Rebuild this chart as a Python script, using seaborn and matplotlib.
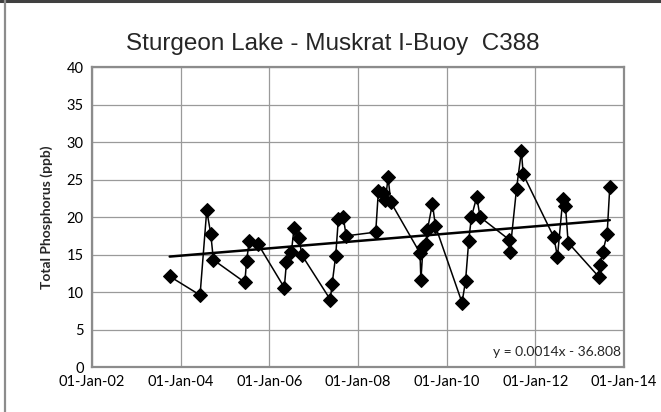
import pandas as pd
import numpy as np
import matplotlib
matplotlib.use('Agg')
import matplotlib.pyplot as plt
import matplotlib.dates as mdates
import seaborn as sns

# sample dates and total phosphorus (ppb)
sample_dates = [
    '2003-10-04', '2004-06-10', '2004-08-04', '2004-09-06', '2004-09-28',
    '2005-06-14', '2005-06-28', '2005-07-20', '2005-10-01',
    '2006-05-05', '2006-05-23', '2006-07-02', '2006-07-24', '2006-09-02', '2006-09-28',
    '2007-05-19', '2007-06-03', '2007-07-02', '2007-07-24', '2007-09-02', '2007-09-27',
    '2008-05-27', '2008-06-18', '2008-07-28', '2008-08-15', '2008-09-06', '2008-09-28',
    '2009-05-27', '2009-06-03', '2009-06-21', '2009-07-13', '2009-07-27', '2009-09-06', '2009-10-01',
    '2010-05-08', '2010-06-06', '2010-07-02', '2010-07-24', '2010-09-06', '2010-10-04',
    '2011-05-31', '2011-06-07', '2011-07-31', '2011-09-09', '2011-09-24',
    '2012-06-03', '2012-07-02', '2012-08-15', '2012-09-06', '2012-09-28',
    '2013-06-10', '2013-06-18', '2013-07-09', '2013-08-15', '2013-09-06',
]
phosphorus = [
    12.1, 9.6, 20.9, 17.8, 14.3,
    11.3, 14.1, 16.8, 16.4,
    10.6, 14.0, 15.3, 18.5, 17.2, 14.9,
    9.0, 11.1, 14.8, 19.7, 20.0, 17.5,
    18.0, 23.5, 23.2, 22.3, 25.3, 22.0,
    15.2, 11.6, 16.0, 16.4, 18.3, 21.8, 18.8,
    8.6, 11.5, 16.8, 20.0, 22.7, 20.0,
    17.0, 15.4, 23.8, 28.8, 25.7,
    17.3, 14.7, 22.4, 21.5, 16.6,
    12.0, 13.6, 15.3, 17.7, 24.0,
]
x_ticks = ['2002-01-01', '2004-01-01', '2006-01-01', '2008-01-01',
           '2010-01-01', '2012-01-01', '2014-01-01']

df = pd.DataFrame({'date': pd.to_datetime(sample_dates), 'tp': phosphorus})
df['num'] = mdates.date2num(df['date'])

sns.set_style('white')
plt.rcParams['font.family'] = ['Lato', 'DejaVu Sans']

fig = plt.figure(figsize=(6.61, 4.12), dpi=100)
ax = fig.add_axes([0.139, 0.109, 0.805, 0.728])

sns.lineplot(data=df, x='num', y='tp', ax=ax, color='black', linewidth=1.1,
             marker='D', markersize=7.5, markeredgecolor='black', sort=False)
sns.regplot(data=df, x='num', y='tp', ax=ax, scatter=False, ci=None,
            color='black', line_kws={'linewidth': 1.8})

tick_nums = mdates.date2num(pd.to_datetime(x_ticks))
ax.set_xlim(tick_nums[0], tick_nums[-1])
ax.set_ylim(0, 40)
ax.set_xticks(tick_nums)
ax.xaxis.set_major_formatter(mdates.DateFormatter('%d-%b-%y'))
ax.set_yticks(np.arange(0, 41, 5))
ax.grid(True, color='#9a9a9a', linewidth=0.9)
ax.tick_params(axis='both', length=0, labelsize=10.5, pad=6, colors='black')
for s in ax.spines.values():
    s.set_color('#8c8c8c')
    s.set_linewidth(1.6)

ax.set_xlabel('')
ax.set_ylabel('Total Phosphorus (ppb)', fontsize=10, fontweight='bold', labelpad=10)
fig.text(0.503, 0.893, 'Sturgeon Lake - Muskrat I-Buoy  C388', ha='center',
         va='center', fontsize=17.5, family=['Liberation Sans', 'DejaVu Sans'])
ax.text(0.995, 0.05, 'y = 0.0014x - 36.808', transform=ax.transAxes,
        ha='right', va='center', fontsize=10)

# outer chart frame (top and left edges)
fig.add_artist(plt.Line2D([0, 1], [0.997, 0.997], color='#404040', linewidth=2.2,
                          transform=fig.transFigure))
fig.add_artist(plt.Line2D([0.008, 0.008], [0, 1], color='#8c8c8c', linewidth=1.6,
                          transform=fig.transFigure))

fig.savefig('out.png', dpi=100)
